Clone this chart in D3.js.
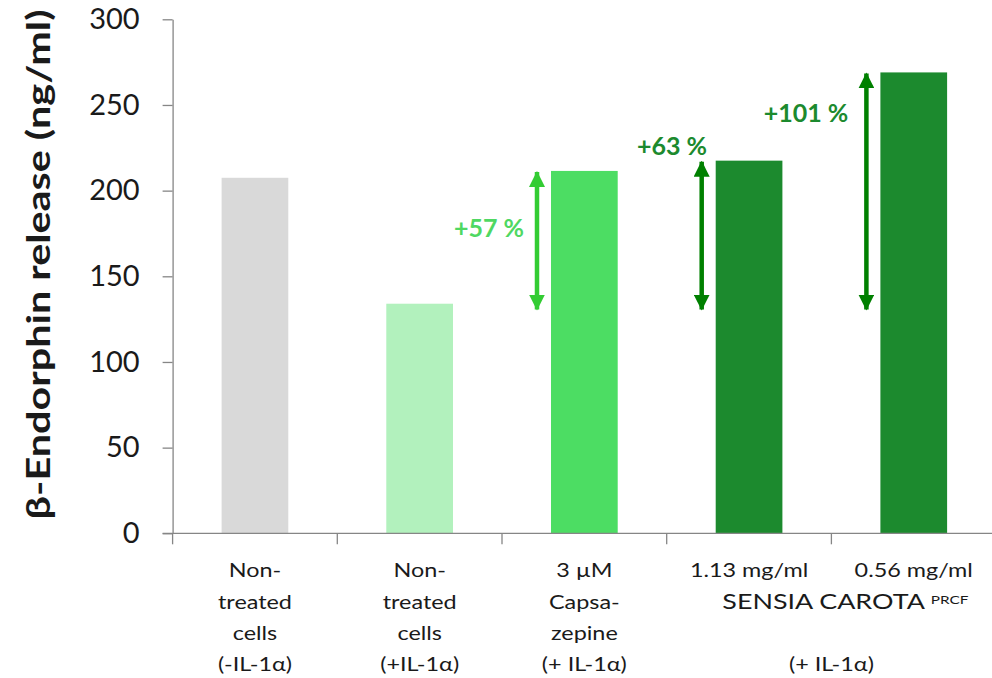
<!DOCTYPE html>
<html>
<head>
<meta charset="utf-8">
<script src="https://cdn.jsdelivr.net/npm/d3@7"></script>
<style>
  html, body { margin: 0; padding: 0; background: #fff; }
  svg { display: block; }
  text { font-family: Lato, "Open Sans", sans-serif; }
</style>
</head>
<body>
<svg id="chart" width="992" height="678"></svg>
<script>
// ---- data ----
const categories = ["ctrl", "il1", "capsazepine", "sc113", "sc056"];
const values = [207.5, 134.0, 211.5, 217.5, 269.0];
const barColors = ["#d9d9d9", "#b2f1bd", "#4cdd63", "#1c8a2e", "#1c8a2e"];
const categoryLines = [
  ["Non-", "treated", "cells", "(-IL-1\u03b1)"],
  ["Non-", "treated", "cells", "(+IL-1\u03b1)"],
  ["3 \u00b5M", "Capsa-", "zepine", "(+ IL-1\u03b1)"],
  ["1.13 mg/ml"],
  ["0.56 mg/ml"]
];
const groupTitle = "SENSIA CAROTA";
const groupSuper = "PRCF";
const groupCondition = "(+ IL-1\u03b1)";
const yTicks = [0, 50, 100, 150, 200, 250, 300];
const yTitle = "\u03b2-Endorphin release (ng/ml)";
// annotations: target category, arrow base value, label text
const arrowTargets = ["capsazepine", "sc113", "sc056"];
const arrowBase = 130;
const arrowLabels = ["+57 %", "+63 %", "+101 %"];
const arrowLabelValues = [173, 221, 240];
const arrowColors = ["#33cc33", "#008000", "#008000"];
const labelColors = ["#4fd862", "#1c8a2e", "#1c8a2e"];

// ---- layout ----
const svg = d3.select("#chart");
const x0 = 172.6, step = 164.7;
const x = d3.scaleBand().domain(categories).range([x0, x0 + step * categories.length])
  .paddingInner(0.595).paddingOuter(0.2975);
const y = d3.scaleLinear().domain([0, 300]).range([533.3, 19.3]);
const axisColor = "#868686";
const textColor = "#1a1a1a";

// bars
svg.append("g").selectAll("rect").data(categories).join("rect")
  .attr("x", d => x(d))
  .attr("y", (d, i) => y(values[i]))
  .attr("width", x.bandwidth())
  .attr("height", (d, i) => y(0) - y(values[i]))
  .attr("fill", (d, i) => barColors[i]);

// y axis
const yAxis = d3.axisLeft(y).tickValues(yTicks).tickSize(10).tickSizeOuter(0).tickPadding(23);
const gy = svg.append("g").attr("transform", `translate(${x0},0)`).call(yAxis);
gy.select(".domain").attr("stroke", axisColor).attr("stroke-width", 1.3);
gy.selectAll(".tick line").attr("stroke", axisColor).attr("stroke-width", 1.3);
gy.selectAll(".tick text").attr("font-size", 29).attr("fill", textColor)
  .attr("font-family", "Lato, sans-serif");

// x axis baseline and boundary ticks
svg.append("line").attr("x1", x0 - 10).attr("x2", 992).attr("y1", y(0)).attr("y2", y(0))
  .attr("stroke", axisColor).attr("stroke-width", 1.3);
const boundaries = d3.range(categories.length + 1).map(i => x0 + i * x.step());
svg.append("g").selectAll("line").data(boundaries).join("line")
  .attr("x1", d => d).attr("x2", d => d).attr("y1", y(0)).attr("y2", y(0) + 11)
  .attr("stroke", axisColor).attr("stroke-width", 1.3);

// y title
svg.append("text")
  .attr("transform", `translate(50,${(9 + 520) / 2}) rotate(-90)`)
  .attr("text-anchor", "middle")
  .attr("font-weight", 700).attr("font-size", 32)
  .attr("textLength", 510).attr("lengthAdjust", "spacingAndGlyphs")
  .attr("fill", textColor)
  .text(yTitle);

// category labels
const baselines = [577, 609, 640, 671];
const sx = 1.17, catFont = 20;
categories.forEach((c, i) => {
  const cx = x(c) + x.bandwidth() / 2;
  categoryLines[i].forEach((line, j) => {
    svg.append("text")
      .attr("transform", `translate(${cx},${baselines[j]}) scale(${sx},1)`)
      .attr("text-anchor", "middle").attr("font-size", catFont).attr("fill", textColor)
      .text(line);
  });
});
// group label for the two SENSIA CAROTA bars
const gx = boundaries[4];
const gt = svg.append("text")
  .attr("transform", `translate(${gx + 14},${baselines[1]}) scale(1.28,1)`)
  .attr("text-anchor", "middle").attr("font-size", 21).attr("fill", textColor);
gt.append("tspan").text(groupTitle + " ");
gt.append("tspan").attr("font-size", 12).attr("dy", -5).text(groupSuper);
svg.append("text")
  .attr("transform", `translate(${gx},${baselines[3]}) scale(${sx},1)`)
  .attr("text-anchor", "middle").attr("font-size", catFont).attr("fill", textColor)
  .text(groupCondition);

// arrows
const defs = svg.append("defs");
arrowColors.forEach((col, i) => {
  const m = defs.append("marker").attr("id", "ah" + i)
    .attr("viewBox", "0 0 16 16").attr("refX", 15).attr("refY", 8)
    .attr("markerWidth", 16).attr("markerHeight", 16)
    .attr("markerUnits", "userSpaceOnUse").attr("orient", "auto-start-reverse");
  m.append("path").attr("d", "M0,0 L16,8 L0,16 Z").attr("fill", col);
});
const arrowDx = -14;
arrowTargets.forEach((c, i) => {
  const idx = categories.indexOf(c);
  const ax = x(c) + arrowDx;
  const yTop = y(values[idx]), yBot = y(arrowBase);
  svg.append("line")
    .attr("x1", ax).attr("x2", ax)
    .attr("y1", yBot - 1).attr("y2", yTop + 1)
    .attr("stroke", arrowColors[i]).attr("stroke-width", 4.5)
    .attr("marker-start", `url(#ah${i})`).attr("marker-end", `url(#ah${i})`);
});
// arrow labels
const labelCx = [489, 672, 806];
arrowLabels.forEach((t, i) => {
  svg.append("text")
    .attr("x", labelCx[i]).attr("y", y(arrowLabelValues[i]))
    .attr("text-anchor", "middle").attr("font-weight", 700).attr("font-size", 25)
    .attr("fill", labelColors[i])
    .text(t);
});
</script>
</body>
</html>
